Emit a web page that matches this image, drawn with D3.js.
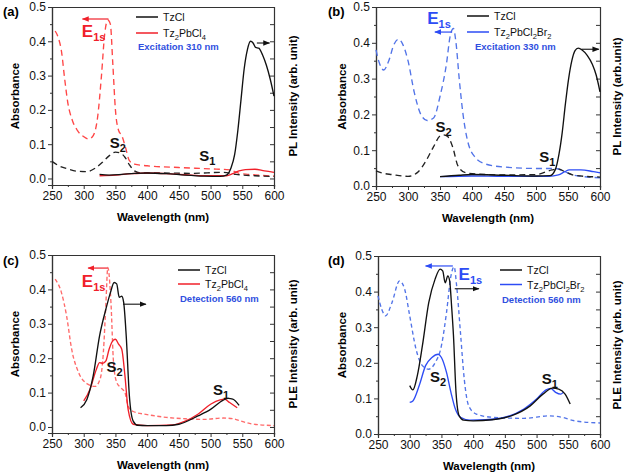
<!DOCTYPE html>
<html><head><meta charset="utf-8">
<script src="https://cdn.jsdelivr.net/npm/d3@7"></script>
<style>body{margin:0;background:#fff}svg{display:block}text{font-family:"Liberation Sans",Arial,sans-serif}</style>
</head><body><svg id="c" width="630" height="473"></svg>
<script>
// ---------- tick labels ----------
const xTicks = [250,300,350,400,450,500,550,600];
const yTicks = [0.0,0.1,0.2,0.3,0.4,0.5];

// ---------- panel (a) ----------
const aAbsPb = [[255,0.43],[260,0.41],[265,0.37],[270,0.29],[275,0.22],[282,0.17],[290,0.14],[300,0.122],[308,0.115],[315,0.125],[322,0.18],[328,0.3],[333,0.42],[338,0.462],[342,0.45],[346,0.33],[350,0.2],[355,0.14],[360,0.125],[366,0.09],[372,0.052],[380,0.042],[400,0.037],[450,0.032],[500,0.028],[530,0.025],[545,0.015],[560,0.012],[580,0.009],[600,0.007]];
const aAbsTz = [[250,0.05],[260,0.038],[275,0.028],[290,0.021],[305,0.02],[318,0.03],[330,0.048],[340,0.066],[350,0.077],[358,0.074],[365,0.062],[372,0.04],[380,0.022],[390,0.016],[420,0.016],[470,0.015],[520,0.018],[540,0.012],[570,0.008],[600,0.006]];
const aPLTz = [[325,0.012],[340,0.01],[360,0.012],[380,0.015],[400,0.016],[430,0.014],[460,0.01],[490,0.007],[515,0.006],[525,0.01],[532,0.03],[538,0.07],[543,0.14],[548,0.23],[553,0.32],[558,0.375],[563,0.4],[567,0.395],[571,0.382],[576,0.38],[582,0.36],[588,0.33],[594,0.29],[600,0.24]];
const aPLPb = [[325,0.008],[350,0.01],[375,0.014],[400,0.016],[430,0.014],[460,0.011],[490,0.008],[525,0.008],[535,0.014],[545,0.022],[555,0.026],[570,0.027],[585,0.022],[600,0.018]];

// ---------- panel (b) ----------
const bAbsPb = [[250,0.38],[255,0.345],[262,0.324],[270,0.35],[278,0.395],[285,0.41],[292,0.395],[300,0.35],[310,0.26],[320,0.2],[330,0.183],[340,0.19],[350,0.25],[360,0.34],[366,0.42],[371,0.44],[375,0.4],[380,0.3],[386,0.2],[393,0.127],[405,0.08],[420,0.062],[450,0.053],[500,0.049],[530,0.049],[545,0.04],[560,0.03],[600,0.023]];
const bAbsTz = [[250,0.042],[260,0.036],[275,0.032],[300,0.027],[315,0.038],[328,0.07],[340,0.11],[350,0.14],[355,0.143],[362,0.138],[370,0.108],[378,0.056],[390,0.037],[410,0.033],[450,0.031],[500,0.032],[525,0.045],[535,0.048],[545,0.04],[560,0.03],[600,0.025]];
const bPLTz = [[350,0.026],[380,0.03],[400,0.032],[450,0.03],[500,0.028],[522,0.029],[530,0.045],[536,0.09],[541,0.15],[546,0.23],[551,0.3],[556,0.35],[561,0.378],[566,0.385],[572,0.38],[580,0.365],[588,0.34],[594,0.31],[600,0.263]];
const bPLPb = [[350,0.026],[400,0.028],[450,0.027],[520,0.027],[535,0.031],[545,0.04],[552,0.045],[570,0.045],[590,0.04],[600,0.037]];

// ---------- panel (c) ----------
const cAbsPb = [[255,0.43],[265,0.39],[273,0.323],[281,0.226],[292,0.158],[307,0.124],[318,0.118],[326,0.14],[331,0.217],[335,0.36],[338,0.464],[343,0.36],[347,0.187],[352,0.13],[358,0.115],[365,0.1],[370,0.06],[378,0.045],[400,0.036],[430,0.028],[460,0.024],[490,0.022],[520,0.026],[535,0.024],[548,0.017],[565,0.009],[600,0.004]];
const cPLETz = [[295,0.056],[305,0.08],[315,0.149],[325,0.265],[335,0.343],[342,0.39],[348,0.42],[352,0.416],[356,0.377],[360,0.38],[363,0.362],[367,0.265],[372,0.09],[378,0.017],[385,0.005],[400,0.004],[430,0.004],[450,0.008],[480,0.032],[500,0.051],[520,0.078],[528,0.083],[535,0.081],[545,0.063]];
const cPLEPb = [[300,0.076],[310,0.11],[320,0.168],[325,0.187],[330,0.185],[335,0.192],[340,0.226],[347,0.253],[350,0.255],[355,0.241],[360,0.226],[365,0.149],[370,0.051],[378,0.008],[400,0.004],[440,0.006],[460,0.017],[480,0.037],[500,0.066],[515,0.079],[522,0.081],[530,0.071],[542,0.056]];

// ---------- panel (d) ----------
const dAbsPb = [[250,0.388],[256,0.35],[262,0.332],[272,0.369],[284,0.43],[292,0.407],[300,0.332],[310,0.238],[320,0.192],[330,0.182],[340,0.2],[350,0.248],[358,0.341],[365,0.444],[370,0.47],[374,0.416],[380,0.285],[386,0.154],[393,0.079],[405,0.056],[430,0.047],[480,0.044],[520,0.051],[540,0.047],[560,0.037],[600,0.031]];
const dPLETz = [[300,0.136],[305,0.124],[312,0.164],[320,0.248],[330,0.369],[340,0.435],[348,0.463],[352,0.458],[356,0.425],[360,0.444],[363,0.43],[366,0.36],[369,0.276],[373,0.117],[378,0.051],[385,0.039],[400,0.037],[430,0.04],[460,0.051],[490,0.079],[510,0.112],[525,0.129],[535,0.126],[545,0.112],[553,0.084]];
const dPLEPb = [[300,0.089],[305,0.093],[315,0.136],[325,0.192],[335,0.215],[345,0.224],[350,0.215],[358,0.173],[365,0.117],[372,0.07],[380,0.047],[395,0.039],[420,0.04],[450,0.047],[480,0.07],[500,0.098],[515,0.124],[522,0.128],[530,0.117],[538,0.112],[542,0.117]];

// ---------- legend / text ----------
const legA = [["TzCl"], ["Tz","2","PbCl","4"]];
const legB = [["TzCl"], ["Tz","2","PbCl","2","Br","2"]];

// ---------- styles ----------
const RED = "#f0202a", RED_D = "#ff4646", RED_D2 = "#ff6a6a";
const BLUE = "#2d4cf5", BLUE_D = "#5274e8";
const BLK = "#111", BLK_D = "#222";

const panels = [
  {tag:"(a)", tagX:3, tagY:16, x0:52, x1:274, top:7, bot:185, yMin:-0.019, rightTitle:"PL Intensity (arb. unit)", lx:15, rx:293,
   series:[{d:aAbsPb,c:RED_D,dash:"6,4"},{d:aAbsTz,c:BLK_D,dash:"6,4"},{d:aPLPb,c:RED},{d:aPLTz,c:BLK}],
   leg:{x:136,y:17,dy:16,items:[{c:BLK,t:legA[0]},{c:RED,t:legA[1]}]},
   note:{t:"Excitation 310 nm",x:138,y:50},
   e1s:{c:RED,lab:[297,0.43],arr:[339,298,0.465]}, bArr:[573,593,0.395],
   s2:[341,0.104], s1:[482,0.065]},
  {tag:"(b)", tagX:328, tagY:16, x0:376, x1:600, top:7, bot:186, yMin:0, rightTitle:"PL Intensity (arb.unit)", lx:342, rx:617,
   series:[{d:bAbsPb,c:BLUE_D,dash:"6,4"},{d:bAbsTz,c:BLK_D,dash:"6,4"},{d:bPLPb,c:BLUE},{d:bPLTz,c:BLK}],
   leg:{x:467,y:16,dy:16,items:[{c:BLK,t:legB[0]},{c:BLUE,t:legB[1]}]},
   note:{t:"Excitation 330 nm",x:475,y:50},
   e1s:{c:BLUE,lab:[330,0.469],arr:[369,342,0.43]}, bArr:[571,598,0.382],
   s2:[343,0.164], s1:[505,0.08]},
  {tag:"(c)", tagX:3, tagY:265, x0:52, x1:274, top:255, bot:433, yMin:-0.0175, rightTitle:"PLE Intensity (arb. unit)", lx:15, rx:293,
   series:[{d:cAbsPb,c:RED_D2,dash:"4,2.5"},{d:cPLEPb,c:RED},{d:cPLETz,c:BLK}],
   leg:{x:178,y:270,dy:14,items:[{c:BLK,t:legA[0]},{c:RED,t:legA[1]}]},
   note:{t:"Detection 560 nm",x:180,y:302},
   e1s:{c:RED,lab:[297,0.425],arr:[338,307,0.462]}, bArr:[362,398,0.357],
   s2:[336,0.173], s1:[504,0.108]},
  {tag:"(d)", tagX:328, tagY:265, x0:378, x1:600, top:256, bot:434, yMin:0, rightTitle:"PLE Intensity (arb. unit)", lx:342, rx:617,
   series:[{d:dAbsPb,c:BLUE_D,dash:"4,3"},{d:dPLEPb,c:BLUE},{d:dPLETz,c:BLK}],
   leg:{x:500,y:270,dy:14.5,items:[{c:BLK,t:legB[0]},{c:BLUE,t:legB[1]}]},
   note:{t:"Detection 560 nm",x:502,y:303},
   e1s:{c:BLUE,lab:[377,0.45],arr:[368,325,0.472]}, bArr:[371,409,0.408],
   s2:[332,0.159], s1:[508,0.155]}
];

const svg = d3.select("#c");
const defs = svg.append("defs");
function marker(id,col){
  defs.append("marker").attr("id",id).attr("viewBox","0 0 10 10").attr("refX",9).attr("refY",5)
    .attr("markerWidth",7).attr("markerHeight",7).attr("markerUnits","userSpaceOnUse").attr("orient","auto")
    .append("path").attr("d","M0,1 L10,5 L0,9 Z").attr("fill",col);
}
marker("mR",RED); marker("mB",BLUE); marker("mK",BLK);

function rich(sel, parts, size){
  parts.forEach((p,i)=>{
    const sub = i%2===1;
    sel.append("tspan").text(p).attr("font-size", sub? size*0.72 : size)
      .attr("dy", i===0?0:(sub? size*0.3 : -size*0.3));
  });
}

panels.forEach(p=>{
  const x = d3.scaleLinear().domain([250,600]).range([p.x0,p.x1]);
  const y = d3.scaleLinear().domain([p.yMin,0.5]).range([p.bot,p.top]);
  const g = svg.append("g");

  // axes
  g.append("g").attr("transform",`translate(0,${p.bot})`)
    .call(d3.axisBottom(x).tickValues(xTicks).tickFormat(d3.format("d")).tickSize(4).tickPadding(2));
  g.append("g").attr("transform",`translate(0,${p.bot})`)
    .call(d3.axisBottom(x).tickValues(d3.range(275,600,50)).tickFormat("").tickSize(2));
  g.append("g").attr("transform",`translate(${p.x0},0)`)
    .call(d3.axisLeft(y).tickValues(yTicks).tickFormat(d3.format(".1f")).tickSize(4).tickPadding(2));
  g.append("g").attr("transform",`translate(${p.x0},0)`)
    .call(d3.axisLeft(y).tickValues(d3.range(0.05,0.5,0.1)).tickFormat("").tickSize(2));
  g.append("g").attr("transform",`translate(${p.x1},0)`)
    .call(d3.axisRight(y).tickValues(d3.range(0,0.5001,0.05)).tickFormat("").tickSize(-4));
  g.append("g").attr("transform",`translate(0,${p.top})`)
    .call(d3.axisTop(x).tickValues([]).tickSize(0));
  g.selectAll(".domain").attr("stroke","#333").attr("stroke-width",1.2);
  g.selectAll(".tick line").attr("stroke","#333");
  g.selectAll(".tick text").attr("font-size",12).attr("fill","#111")
    .style("font-family",'"Liberation Sans",Arial,sans-serif');

  // titles
  g.append("text").attr("x",(p.x0+p.x1)/2).attr("y",p.bot+36).attr("text-anchor","middle")
    .attr("font-size",11.5).attr("font-weight","bold").text("Wavelength (nm)");
  g.append("text").attr("transform",`translate(${p.lx+4},${(p.top+p.bot)/2}) rotate(-90)`).attr("text-anchor","middle")
    .attr("font-size",11.5).attr("font-weight","bold").text("Absorbance");
  g.append("text").attr("transform",`translate(${p.rx+4},${(p.top+p.bot)/2}) rotate(-90)`).attr("text-anchor","middle")
    .attr("font-size",11.5).attr("font-weight","bold").text(p.rightTitle);
  g.append("text").attr("x",p.tagX).attr("y",p.tagY).attr("font-size",13).attr("font-weight","bold").text(p.tag);

  // curves
  const line = d3.line().x(d=>x(d[0])).y(d=>y(d[1])).curve(d3.curveMonotoneX);
  p.series.forEach(s=>{
    g.append("path").datum(s.d).attr("d",line).attr("fill","none").attr("stroke",s.c)
      .attr("stroke-width",1.35).attr("stroke-dasharray",s.dash||null);
  });

  // legend
  p.leg.items.forEach((it,i)=>{
    const yy = p.leg.y + i*p.leg.dy;
    g.append("line").attr("x1",p.leg.x).attr("x2",p.leg.x+22).attr("y1",yy).attr("y2",yy)
      .attr("stroke",it.c).attr("stroke-width",1.5);
    const t = g.append("text").attr("x",p.leg.x+27).attr("y",yy+4).attr("fill","#111");
    rich(t,it.t,10.5);
  });
  g.append("text").attr("x",p.note.x).attr("y",p.note.y).attr("font-size",9.5).attr("font-weight","bold")
    .attr("fill","#3050e0").text(p.note.t);

  // annotations
  const e = p.e1s, mk = e.c===RED?"url(#mR)":"url(#mB)";
  g.append("line").attr("x1",x(e.arr[0])).attr("x2",x(e.arr[1])).attr("y1",y(e.arr[2])).attr("y2",y(e.arr[2]))
    .attr("stroke",e.c).attr("stroke-width",1.2).attr("marker-end",mk);
  const et = g.append("text").attr("x",x(e.lab[0])).attr("y",y(e.lab[1])+6).attr("fill",e.c).attr("font-weight","bold");
  et.append("tspan").text("E").attr("font-size",17);
  et.append("tspan").text("1s").attr("font-size",11).attr("dy",4);
  g.append("line").attr("x1",x(p.bArr[0])).attr("x2",x(p.bArr[1])).attr("y1",y(p.bArr[2])).attr("y2",y(p.bArr[2]))
    .attr("stroke",BLK).attr("stroke-width",1.1).attr("marker-end","url(#mK)");
  [["2",p.s2],["1",p.s1]].forEach(([n,pos])=>{
    const t = g.append("text").attr("x",x(pos[0])).attr("y",y(pos[1])+5).attr("fill","#111").attr("font-weight","bold");
    t.append("tspan").text("S").attr("font-size",15);
    t.append("tspan").text(n).attr("font-size",11).attr("dy",4);
  });
});
</script></body></html>
